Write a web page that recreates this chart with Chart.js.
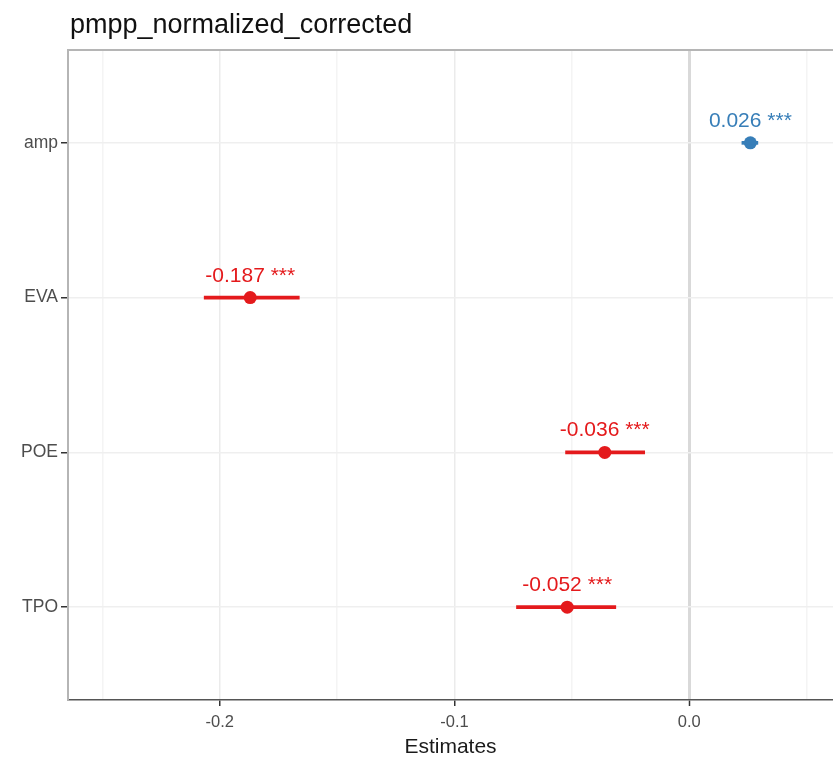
<!DOCTYPE html>
<html>
<head>
<meta charset="utf-8">
<script src="https://cdn.jsdelivr.net/npm/chart.js@4.4.1/dist/chart.umd.min.js"></script>
<style>
  body { margin: 0; background: #fff; }
  #wrap { width: 833px; height: 765px; overflow: hidden; }
</style>
</head>
<body>
<div id="wrap"><canvas id="forest" width="833" height="765"></canvas></div>
<script>
// model terms, top to bottom
const terms = ['amp', 'EVA', 'POE', 'TPO'];
const estimates = [0.026, -0.187, -0.036, -0.052];
const ciLow = [0.0224, -0.2066, -0.0527, -0.0736];
const ciHigh = [0.0292, -0.1661, -0.0190, -0.0313];
const stars = ['***', '***', '***', '***'];

const xTicks = [-0.25, -0.2, -0.15, -0.1, -0.05, 0, 0.05];
const xMajor = [-0.2, -0.1, 0];

const RED = '#e41a1c';
const BLUE = '#377eb8';
const FONT = "'Liberation Sans', Arial, sans-serif";

const colorFor = i => estimates[i] > 0 ? BLUE : RED;
const isMajor = v => xMajor.some(m => Math.abs(m - v) < 1e-9);

// title + value labels + panel top line
const decorations = {
  id: 'decorations',
  afterDraw(chart) {
    const { ctx, chartArea, scales } = chart;
    ctx.save();
    ctx.strokeStyle = '#b5b5b5';
    ctx.lineWidth = 2;
    ctx.beginPath();
    ctx.moveTo(chartArea.left, chartArea.top);
    ctx.lineTo(chartArea.right, chartArea.top);
    ctx.stroke();

    ctx.fillStyle = '#111';
    ctx.font = '27px ' + FONT;
    ctx.textAlign = 'left';
    ctx.textBaseline = 'alphabetic';
    ctx.fillText('pmpp_normalized_corrected', chartArea.left + 2, 33);

    ctx.font = '21px ' + FONT;
    ctx.textAlign = 'center';
    estimates.forEach((v, i) => {
      const x = scales.x.getPixelForValue(v);
      const y = scales.y.getPixelForValue(i);
      ctx.fillStyle = colorFor(i);
      ctx.fillText(v.toFixed(3) + ' ' + stars[i], x, y - 16);
    });
    ctx.restore();
  }
};

new Chart(document.getElementById('forest'), {
  type: 'bar',
  data: {
    datasets: [{
      type: 'bar',
      data: terms.map((t, i) => ({ x: [ciLow[i], ciHigh[i]], y: i })),
      backgroundColor: ctx => colorFor(ctx.dataIndex),
      barThickness: 3,
      borderWidth: 0
    }, {
      type: 'scatter',
      data: estimates.map((v, i) => ({ x: v, y: i })),
      pointRadius: 6.5,
      pointBackgroundColor: ctx => colorFor(ctx.dataIndex),
      pointBorderWidth: 0
    }]
  },
  options: {
    indexAxis: 'y',
    responsive: false,
    animation: false,
    layout: { autoPadding: false, padding: { top: 50, right: 0, left: 0, bottom: 0 } },
    plugins: { legend: { display: false }, tooltip: { enabled: false } },
    scales: {
      x: {
        type: 'linear',
        min: -0.2646,
        max: 0.0612,
        afterBuildTicks: s => { s.ticks = xTicks.map(v => ({ value: v })); },
        afterFit: s => { s.height = 65; },
        ticks: {
          autoSkip: false,
          maxRotation: 0,
          padding: 7,
          color: '#4d4d4d',
          font: { family: FONT, size: 16.5 },
          callback: v => isMajor(v) ? v.toFixed(1) : ''
        },
        grid: {
          color: c => {
            const v = c.tick ? c.tick.value : null;
            if (v === 0) return '#d9d9d9';
            return isMajor(v) ? '#ebebeb' : '#f4f4f4';
          },
          lineWidth: c => (c.tick && c.tick.value === 0) ? 3 : 1.5,
          tickColor: c => (c.tick && isMajor(c.tick.value)) ? '#333' : 'rgba(0,0,0,0)',
          tickLength: 6,
          tickWidth: 1.5
        },
        border: { color: '#555', width: 1.5 },
        title: {
          display: true,
          text: 'Estimates',
          color: '#1a1a1a',
          font: { family: FONT, size: 21 },
          padding: { top: 0, bottom: 5 }
        }
      },
      y: {
        type: 'linear',
        min: -0.6,
        max: 3.6,
        reverse: true,
        offset: false,
        afterBuildTicks: s => { s.ticks = terms.map((t, i) => ({ value: i })); },
        afterFit: s => { s.width = 68; },
        ticks: {
          autoSkip: false,
          padding: 3,
          color: '#4d4d4d',
          font: { family: FONT, size: 17.5 },
          callback: v => terms[v] || ''
        },
        grid: {
          offset: false,
          color: '#efefef',
          lineWidth: 1.5,
          tickColor: '#333',
          tickLength: 7,
          tickWidth: 1.5
        },
        border: { color: '#b5b5b5', width: 2 }
      }
    }
  },
  plugins: [decorations]
});
</script>
</body>
</html>
